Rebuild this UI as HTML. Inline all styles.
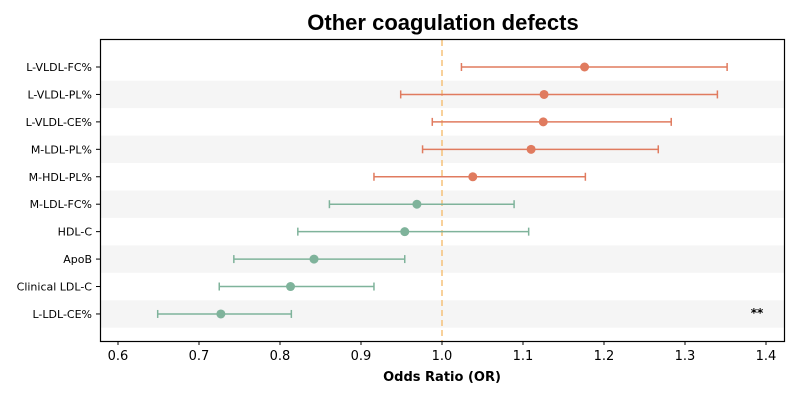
<!DOCTYPE html>
<html><head><meta charset="utf-8"><style>
html,body{margin:0;padding:0;background:#fff;}
svg{display:block;font-family:"DejaVu Sans","Liberation Sans",sans-serif;}
</style></head><body>
<svg id="chart" width="800" height="400" viewBox="0 0 800 400" xmlns="http://www.w3.org/2000/svg">
<text x="443" y="30" text-anchor="middle" font-size="22" font-weight="bold" font-family="Liberation Sans, sans-serif" fill="#000">Other coagulation defects</text>
<g id="bands"></g>
<g id="refline"></g>
<g id="marks"></g>
<g id="yaxis"></g>
<g id="xaxis"></g>
<rect x="100.5" y="39.5" width="684" height="302" fill="none" stroke="#000" stroke-width="1.2"/>
<text x="442" y="381" text-anchor="middle" font-size="13" font-weight="bold" fill="#000">Odds Ratio (OR)</text>
<text x="757" y="317" text-anchor="middle" font-size="12" font-weight="bold" fill="#000">**</text>
</svg>
<script>
const labels = ["L-VLDL-FC%","L-VLDL-PL%","L-VLDL-CE%","M-LDL-PL%","M-HDL-PL%","M-LDL-FC%","HDL-C","ApoB","Clinical LDL-C","L-LDL-CE%"];
const orValues = [1.176,1.126,1.125,1.110,1.038,0.969,0.954,0.842,0.813,0.727];
const ciLow = [1.024,0.949,0.988,0.976,0.916,0.861,0.822,0.743,0.725,0.649];
const ciHigh = [1.352,1.340,1.283,1.267,1.177,1.089,1.107,0.954,0.916,0.814];
const xTicks = [0.6,0.7,0.8,0.9,1.0,1.1,1.2,1.3,1.4];
const NS = "http://www.w3.org/2000/svg";
function x(v){ return 118 + (v - 0.6) * 810; }
function y(i){ return 67 + i * 27.44; }
function mk(tag, attrs, parent){ const e=document.createElementNS(NS,tag); for(const k in attrs) e.setAttribute(k,attrs[k]); parent.appendChild(e); return e; }
const bands=document.getElementById('bands'), marks=document.getElementById('marks'), ya=document.getElementById('yaxis'), xa=document.getElementById('xaxis'), rl=document.getElementById('refline');
labels.forEach((lab,i)=>{
  if(i%2===1){
    const b=mk('rect',{x:101,y:y(i)-13.7,width:683,height:27.4,fill:'#f5f5f5'},bands);
    
    
  }
  const col = orValues[i] > 1 ? '#e07b5f' : '#7fb39b';
  const g=mk('g',{},marks);
  
  
  const yy=y(i);
  mk('line',{x1:x(ciLow[i]),x2:x(ciHigh[i]),y1:yy,y2:yy,stroke:col,'stroke-width':1.5},g);
  mk('line',{x1:x(ciLow[i]),x2:x(ciLow[i]),y1:yy-4,y2:yy+4,stroke:col,'stroke-width':1.5},g);
  mk('line',{x1:x(ciHigh[i]),x2:x(ciHigh[i]),y1:yy-4,y2:yy+4,stroke:col,'stroke-width':1.5},g);
  mk('circle',{cx:x(orValues[i]),cy:yy,r:4.5,fill:col},g);
  mk('line',{x1:96,x2:100,y1:yy,y2:yy,stroke:'#000','stroke-width':1},ya);
  const t=mk('text',{x:92,y:yy+4,'text-anchor':'end','font-size':11,fill:'#000'},ya);
  t.textContent=lab;
  
  
});
const rline=mk('line',{x1:x(1.0),x2:x(1.0),y1:40,y2:341,stroke:'#f5c27a','stroke-width':1.5,'stroke-dasharray':'6,4'},rl);


xTicks.forEach(v=>{
  mk('line',{x1:x(v),x2:x(v),y1:341,y2:345,stroke:'#000','stroke-width':1},xa);
  const t=mk('text',{x:x(v),y:360,'text-anchor':'middle','font-size':13,fill:'#000'},xa);
  t.textContent=v.toFixed(1);
  
  
});
</script>
</body></html>
